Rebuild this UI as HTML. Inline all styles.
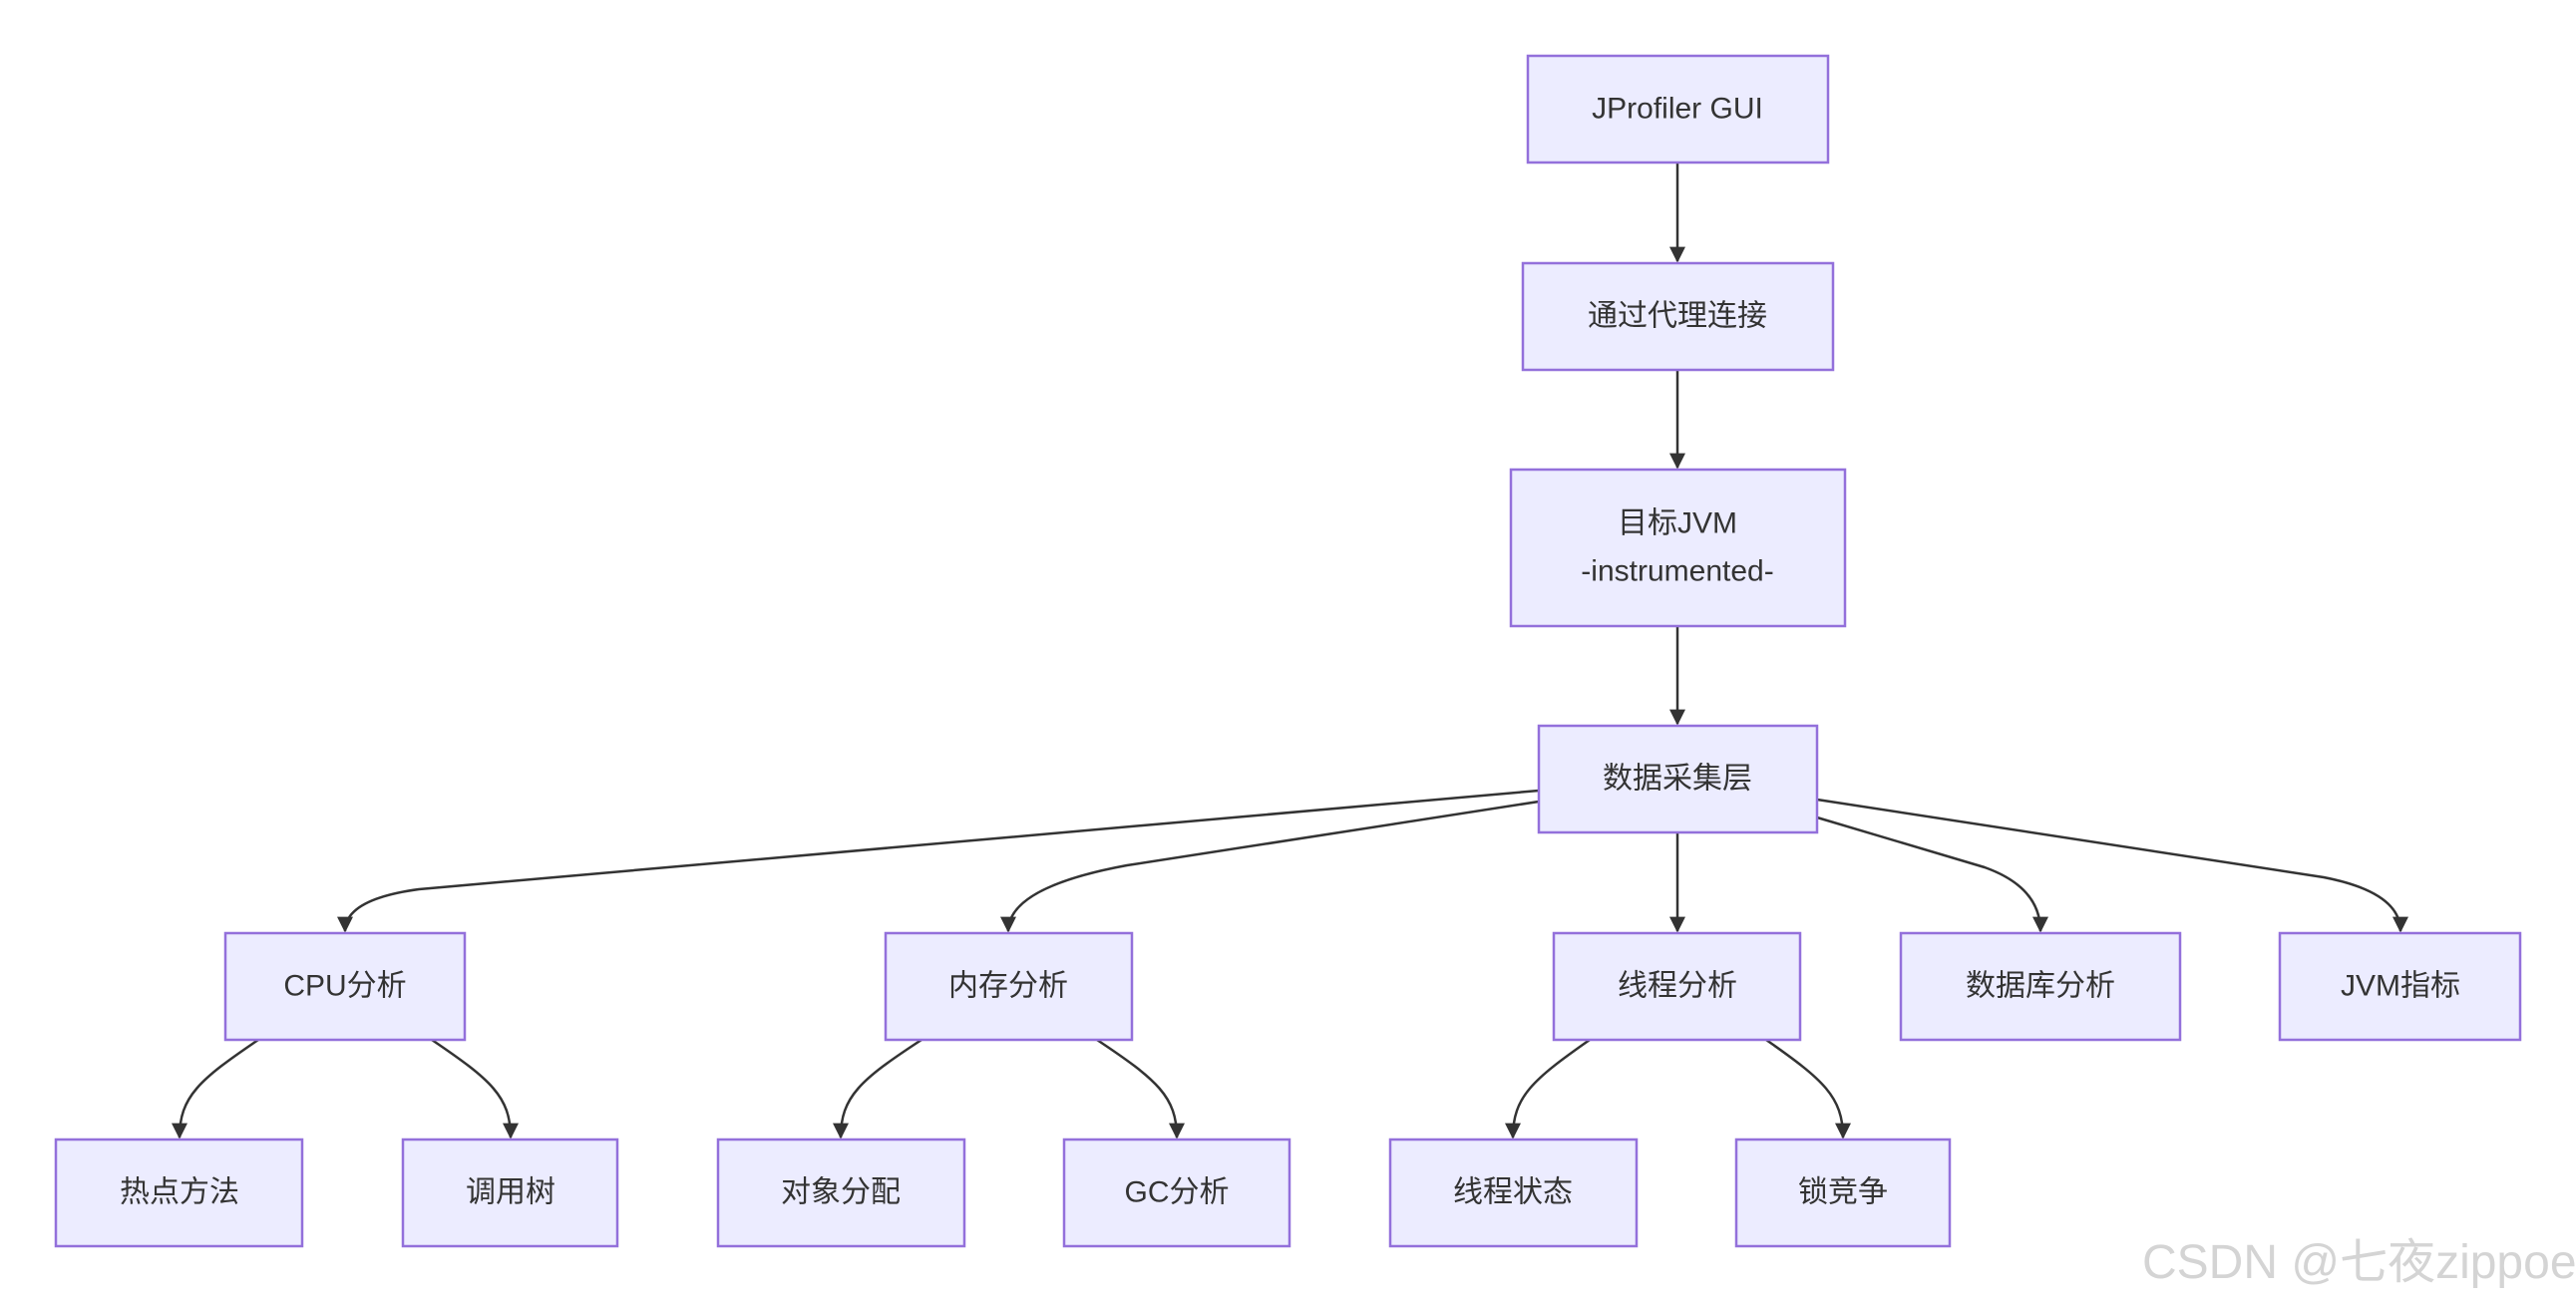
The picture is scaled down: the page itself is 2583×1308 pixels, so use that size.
<!DOCTYPE html>
<html><head><meta charset="utf-8"><style>
html,body{margin:0;padding:0;background:#fff;}
svg{display:block;}
text{font-family:"Liberation Sans","Noto Sans CJK SC",sans-serif;fill:#333;font-size:30px;text-anchor:middle;dominant-baseline:central;}
rect{fill:#ECECFF;stroke:#9370DB;stroke-width:2.5;}
path.e{fill:none;stroke:#333;stroke-width:2.5;}
</style></head><body>
<svg width="2583" height="1308" viewBox="0 0 2583 1308" xmlns="http://www.w3.org/2000/svg">
<defs><marker id="a" viewBox="0 0 10 10" refX="9" refY="5" markerWidth="16" markerHeight="16" markerUnits="userSpaceOnUse" orient="auto"><path d="M0,0 L10,5 L0,10 z" fill="#333"/></marker></defs>
<!-- edges -->
<path class="e" marker-end="url(#a)" d="M1682,163 L1682,262"/>
<path class="e" marker-end="url(#a)" d="M1682,371 L1682,469"/>
<path class="e" marker-end="url(#a)" d="M1682,628 L1682,726"/>
<path class="e" marker-end="url(#a)" d="M1682,835 L1682,934"/>
<path class="e" marker-end="url(#a)" d="M1543,793 L420,892 Q346,902 346,934"/>
<path class="e" marker-end="url(#a)" d="M1543,804 L1130,868 Q1011,890 1011,934"/>
<path class="e" marker-end="url(#a)" d="M1822,820 L1990,870 Q2046,890 2046,934"/>
<path class="e" marker-end="url(#a)" d="M1822,802 L2330,880 Q2407,895 2407,934"/>
<path class="e" marker-end="url(#a)" d="M259,1043 C200,1083 180,1100 180,1141"/>
<path class="e" marker-end="url(#a)" d="M433,1043 C492,1083 512,1100 512,1141"/>
<path class="e" marker-end="url(#a)" d="M924,1043 C863,1083 843,1100 843,1141"/>
<path class="e" marker-end="url(#a)" d="M1100,1043 C1160,1083 1180,1100 1180,1141"/>
<path class="e" marker-end="url(#a)" d="M1594,1043 C1537,1083 1517,1100 1517,1141"/>
<path class="e" marker-end="url(#a)" d="M1771,1043 C1828,1083 1848,1100 1848,1141"/>
<!-- nodes -->
<rect x="1532" y="56" width="301" height="107"/><text x="1682" y="109">JProfiler GUI</text>
<rect x="1527" y="264" width="311" height="107"/><text x="1682" y="317">通过代理连接</text>
<rect x="1515" y="471" width="335" height="157"/><text x="1682" y="525">目标JVM</text><text x="1682" y="573">-instrumented-</text>
<rect x="1543" y="728" width="279" height="107"/><text x="1682" y="781">数据采集层</text>
<rect x="226" y="936" width="240" height="107"/><text x="346" y="989">CPU分析</text>
<rect x="888" y="936" width="247" height="107"/><text x="1011" y="989">内存分析</text>
<rect x="1558" y="936" width="247" height="107"/><text x="1682" y="989">线程分析</text>
<rect x="1906" y="936" width="280" height="107"/><text x="2046" y="989">数据库分析</text>
<rect x="2286" y="936" width="241" height="107"/><text x="2407" y="989">JVM指标</text>
<rect x="56" y="1143" width="247" height="107"/><text x="180" y="1196">热点方法</text>
<rect x="404" y="1143" width="215" height="107"/><text x="512" y="1196">调用树</text>
<rect x="720" y="1143" width="247" height="107"/><text x="843" y="1196">对象分配</text>
<rect x="1067" y="1143" width="226" height="107"/><text x="1180" y="1196">GC分析</text>
<rect x="1394" y="1143" width="247" height="107"/><text x="1517" y="1196">线程状态</text>
<rect x="1741" y="1143" width="214" height="107"/><text x="1848" y="1196">锁竞争</text>
<text x="2148" y="1282" style="font-size:48px;fill:#d4d4d4;text-anchor:start;dominant-baseline:alphabetic;">CSDN @七夜zippoe</text>
</svg>
</body></html>
